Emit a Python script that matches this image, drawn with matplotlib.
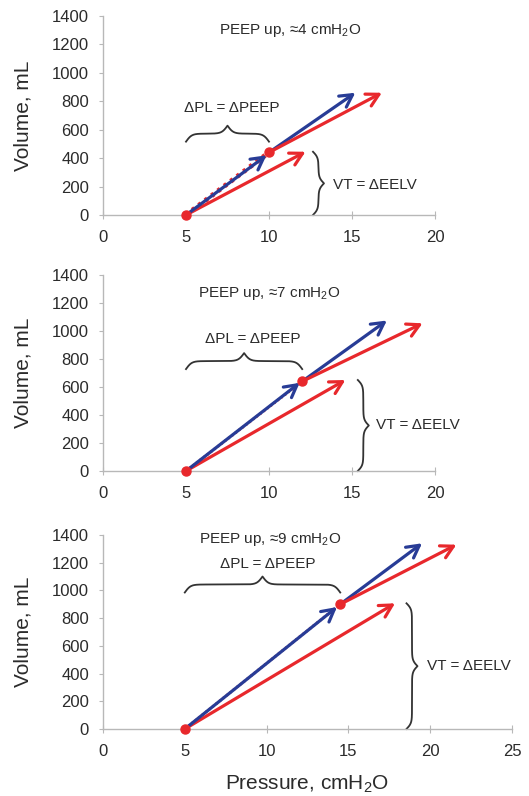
import numpy as np
import matplotlib
matplotlib.use("Agg")
import matplotlib.pyplot as plt

plt.rcParams['font.family'] = ['Liberation Sans', 'DejaVu Sans']
plt.rcParams['mathtext.fontset'] = 'custom'
plt.rcParams['mathtext.rm'] = 'Liberation Sans'

# données (une valeur par panneau)
peep_up = [4, 7, 9]
base_p = 5
dot_x = [10, 12, 14.5]
dot_y = [440, 640, 900]
blue_mid_x = [9.85, 11.85, 14.3]
blue_mid_y = [420, 630, 880]
blue_tip_x = [15.2, 17.1, 19.5]
blue_tip_y = [860, 1075, 1340]
red_tip_x = [16.8, 19.25, 21.6]
red_tip_y = [860, 1055, 1330]
vt_tip_x = [12.2, 14.6, 17.85]
vt_tip_y = [445, 650, 907]
x_max = [20, 20, 25]
y_ticks = [0, 200, 400, 600, 800, 1000, 1200, 1400]

# mise en page
axes_pos = [[0.1947, 0.7299, 0.6276, 0.2500],
            [0.1947, 0.4083, 0.6276, 0.2462],
            [0.1947, 0.0842, 0.7732, 0.2437]]
brace_pl_y = [516, 728, 985]
brace_vt_x = [12.65, 15.35, 18.55]
title_xy = [(11.3, 1300), (10.0, 1268), (10.2, 1369)]
pl_xy = [(7.75, 750), (9.05, 943), (10.1, 1190)]
vt_xy = [(13.85, 210), (16.45, 328), (19.8, 455)]
dotted_lw = [3.6, 2.0, 2.0]

BLUE = '#283c96'
RED = '#e8282c'
GREY = '#b8b8b8'
TXT = '#2b2b2b'


def accolade(ax, a, b, fixe, h, vertical=False, beta=0.35):
    """Accolade entre a et b (données), hauteur h en pixels."""
    tr = ax.transData
    if vertical:
        p0 = tr.transform((fixe, a))
        p1 = tr.transform((fixe, b))
        L = p1[1] - p0[1]
    else:
        p0 = tr.transform((a, fixe))
        p1 = tr.transform((b, fixe))
        L = p1[0] - p0[0]
    half = L / 2
    s = np.linspace(0, half, 200)
    y = (1 / (1 + np.exp(-beta * (s - s[0]))) +
         1 / (1 + np.exp(-beta * (s - s[-1]))))
    y = np.concatenate((y, y[-2::-1]))
    s = np.concatenate((s, L - s[-2::-1]))
    y = (y - 0.5) * h
    if vertical:
        pts = np.column_stack((p0[0] + y, p0[1] + s))
    else:
        pts = np.column_stack((p0[0] + s, p0[1] + y))
    d = tr.inverted().transform(pts)
    ax.plot(d[:, 0], d[:, 1], color='#333333', lw=1.3, clip_on=False)


def fleche(ax, x0, y0, x1, y1, c):
    ax.annotate('', xy=(x1, y1), xytext=(x0, y0),
                arrowprops=dict(arrowstyle='->,head_length=0.55,head_width=0.3',
                                color=c, lw=2.3, mutation_scale=16,
                                shrinkA=0, shrinkB=0),
                annotation_clip=False, zorder=3)


fig = plt.figure(figsize=(5.29, 7.96), dpi=100)
for i in range(3):
    ax = fig.add_axes(axes_pos[i])
    ax.set_xlim(0, x_max[i])
    ax.set_ylim(0, 1400)
    ax.set_yticks(y_ticks)
    ax.set_xticks(np.arange(0, x_max[i] + 1, 5))
    for s in ['top', 'right']:
        ax.spines[s].set_visible(False)
    for s in ['left', 'bottom']:
        ax.spines[s].set_color(GREY)
        ax.spines[s].set_linewidth(1.0)
    ax.tick_params(axis='y', direction='out', length=3, color=GREY,
                   labelsize=12, labelcolor=TXT, pad=7)
    ax.tick_params(axis='x', direction='inout', length=6, color=GREY,
                   labelsize=12, labelcolor=TXT, pad=8)
    ax.set_ylabel('Volume, mL', fontsize=15, color=TXT, labelpad=14)

    # courbes
    ax.plot([base_p, dot_x[i]], [0, dot_y[i]], color=RED, lw=dotted_lw[i],
            ls=(0, (0.6, 1.0)), zorder=2)
    fleche(ax, base_p, 0, vt_tip_x[i], vt_tip_y[i], RED)
    fleche(ax, base_p, 0, blue_mid_x[i], blue_mid_y[i], BLUE)
    fleche(ax, dot_x[i], dot_y[i], blue_tip_x[i], blue_tip_y[i], BLUE)
    fleche(ax, dot_x[i], dot_y[i], red_tip_x[i], red_tip_y[i], RED)
    ax.plot([base_p, dot_x[i]], [0, dot_y[i]], 'o', color=RED, ms=6.5,
            zorder=4, clip_on=False)

    # accolades
    accolade(ax, base_p, dot_x[i], brace_pl_y[i], 16)
    accolade(ax, 0, vt_tip_y[i], brace_vt_x[i], 11, vertical=True)

    # textes
    ax.text(*title_xy[i], 'PEEP up, \u2248%d cmH$_\\mathregular{2}$O' % peep_up[i],
            ha='center', va='center', fontsize=11, color=TXT)
    ax.text(*pl_xy[i], '\u0394PL = \u0394PEEP', ha='center', va='center',
            fontsize=11, color=TXT)
    ax.text(*vt_xy[i], 'VT = \u0394EELV', ha='left', va='center',
            fontsize=11, color=TXT, clip_on=False)

ax.set_xlabel('Pressure, cmH$_\\mathregular{2}$O', fontsize=15, color=TXT,
              labelpad=10)

fig.savefig('out.png', dpi=100)
